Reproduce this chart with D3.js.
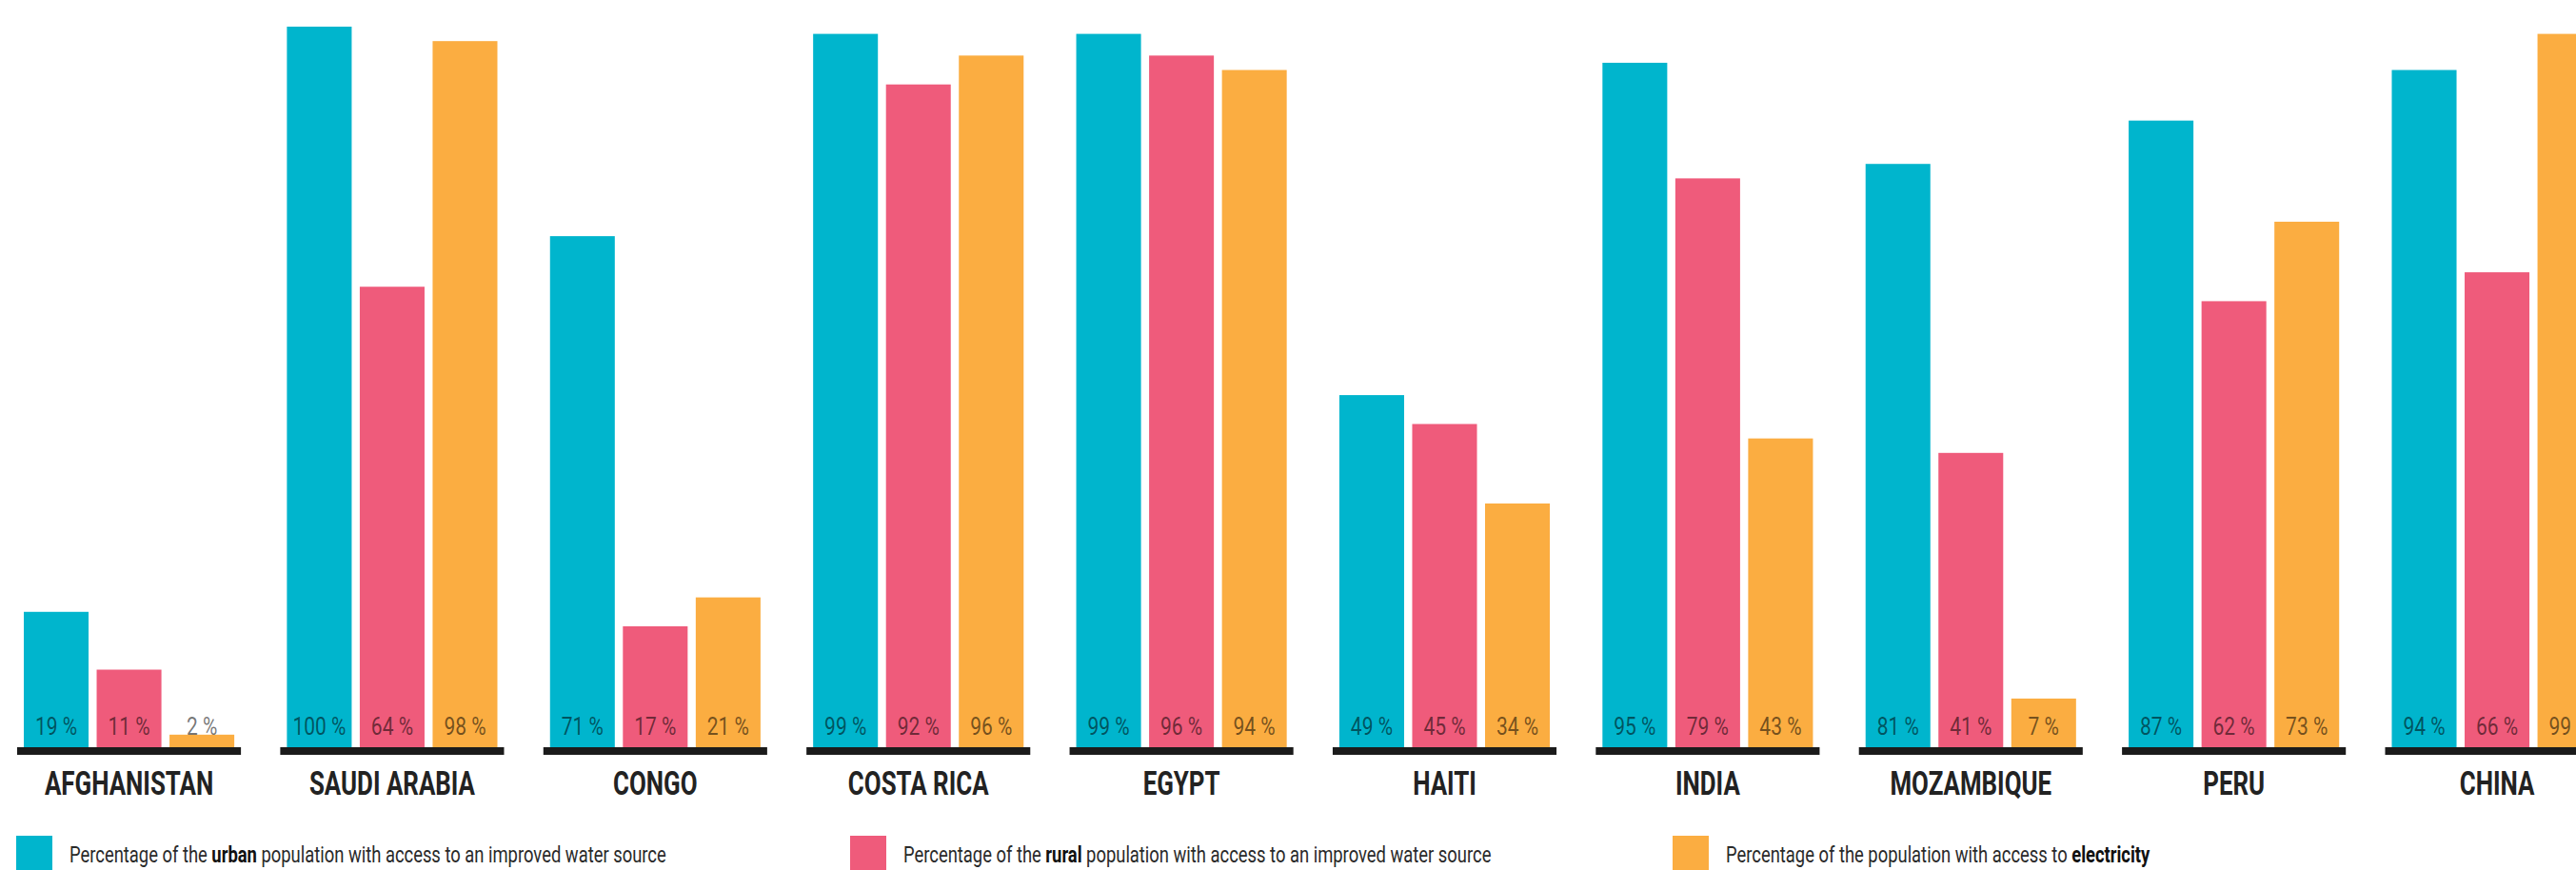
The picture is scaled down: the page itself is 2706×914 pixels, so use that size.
<!DOCTYPE html>
<html>
<head>
<meta charset="utf-8">
<script src="https://cdnjs.cloudflare.com/ajax/libs/d3/7.8.5/d3.min.js"></script>
<style>
  html, body { margin: 0; padding: 0; background: #fff; }
  svg { display: block; }
</style>
</head>
<body>
<svg id="chart" width="2706" height="914"></svg>
<script>
// ---- data ----
const countries = ["AFGHANISTAN", "SAUDI ARABIA", "CONGO", "COSTA RICA", "EGYPT", "HAITI", "INDIA", "MOZAMBIQUE", "PERU", "CHINA"];
const urbanWater = [19, 100, 71, 99, 99, 49, 95, 81, 87, 94];
const ruralWater = [11, 64, 17, 92, 96, 45, 79, 41, 62, 66];
const electricity = [2, 98, 21, 96, 94, 34, 43, 7, 73, 99];
const seriesKeys = ["urban", "rural", "electricity"];
const seriesColors = ["#00b5cd", "#ef5b7b", "#fbad41"];
const legendParts = [
  ["Percentage of the ", "urban", " population with access to an improved water source"],
  ["Percentage of the ", "rural", " population with access to an improved water source"],
  ["Percentage of the population with access to ", "electricity", ""]
];

const rows = countries.map((c, i) => ({
  country: c,
  values: [urbanWater[i], ruralWater[i], electricity[i]]
}));

// ---- layout ----
const W = 2706, H = 914;
const svg = d3.select("#chart");
svg.append("rect").attr("width", W).attr("height", H).attr("fill", "#fff");

const x0 = d3.scaleBand().domain(countries).range([25, 2733.6]).paddingInner(0.2).paddingOuter(0);
const x1 = d3.scaleBand().domain(seriesKeys).range([0, x0.bandwidth()]).paddingInner(0.111).paddingOuter(0);
const y = d3.scaleLinear().domain([0, 100]).range([787, 28]);
const color = d3.scaleOrdinal().domain(seriesKeys).range(seriesColors);
const baseY = 785;

const CONDENSE_LABEL = 0.74;
const CONDENSE_VALUE = 0.84;
const CONDENSE_LEGEND = 0.80;

const groups = svg.append("g").selectAll("g.grp")
  .data(rows).join("g")
  .attr("class", "grp")
  .attr("transform", d => `translate(${x0(d.country)},0)`);

// bars
groups.selectAll("rect.bar")
  .data(d => d.values.map((v, k) => ({ key: seriesKeys[k], v })))
  .join("rect")
  .attr("class", "bar")
  .attr("x", d => x1(d.key))
  .attr("width", x1.bandwidth())
  .attr("y", d => y(d.v))
  .attr("height", d => y(0) - y(d.v))
  .attr("fill", d => color(d.key));

// value labels
groups.selectAll("g.val")
  .data(d => d.values.map((v, k) => ({ key: seriesKeys[k], v })))
  .join("g")
  .attr("class", "val")
  .attr("transform", d => `translate(${x1(d.key) + x1.bandwidth() / 2},772) scale(${CONDENSE_VALUE},1)`)
  .append("text")
  .attr("text-anchor", "middle")
  .attr("font-family", "Roboto, 'Liberation Sans', sans-serif")
  .attr("font-size", 25)
  .attr("fill", "#000")
  .attr("fill-opacity", 0.55)
  .text(d => `${d.v} %`);

// baseline bars
groups.append("rect")
  .attr("x", -7)
  .attr("width", x0.bandwidth() + 14)
  .attr("y", baseY)
  .attr("height", 8)
  .attr("fill", "#1b1b1b");

// country labels
groups.append("g")
  .attr("transform", `translate(${x0.bandwidth() / 2},835) scale(${CONDENSE_LABEL},1)`)
  .append("text")
  .attr("text-anchor", "middle")
  .attr("font-family", "Roboto, 'Liberation Sans', sans-serif")
  .attr("font-weight", 700)
  .attr("font-size", 35)
  .attr("fill", "#222")
  .text(d => d.country);

// legend
const legendX = [17, 893, 1757];
const legend = svg.append("g").selectAll("g.leg")
  .data(seriesKeys).join("g")
  .attr("class", "leg")
  .attr("transform", (d, i) => `translate(${legendX[i]},0)`);

legend.append("rect")
  .attr("x", 0).attr("y", 878)
  .attr("width", 38).attr("height", 38)
  .attr("fill", d => color(d));

const lt = legend.append("g")
  .attr("transform", `translate(56,906) scale(${CONDENSE_LEGEND},1)`)
  .append("text")
  .attr("font-family", "Roboto, 'Liberation Sans', sans-serif")
  .attr("font-size", 23)
  .attr("fill", "#2a2a2a");

lt.each(function (d, i) {
  const t = d3.select(this);
  const parts = legendParts[i];
  t.append("tspan").text(parts[0]);
  t.append("tspan").attr("font-weight", 700).attr("fill", "#111").text(parts[1]);
  if (parts[2]) t.append("tspan").text(parts[2]);
});
</script>
</body>
</html>
